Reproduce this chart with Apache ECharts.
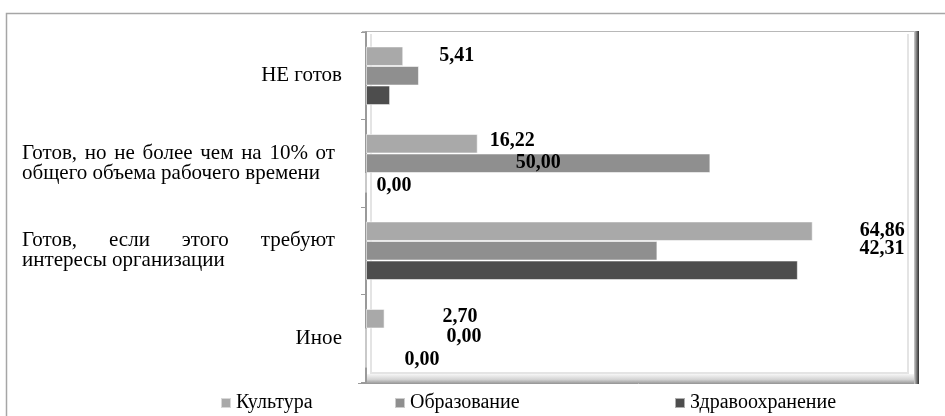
<!DOCTYPE html>
<html>
<head>
<meta charset="utf-8">
<script src="https://cdn.jsdelivr.net/npm/echarts@6/dist/echarts.min.js"></script>
<style>
  html, body { margin: 0; padding: 0; background: #ffffff; }
  #chart { width: 945px; height: 416px; }
</style>
</head>
<body>
<div id="chart"></div>
<script>
// Categories, top to bottom
const categories = [
  'НЕ готов',
  'Готов, но не более чем на 10% от общего объема рабочего времени',
  'Готов, если этого требуют интересы организации',
  'Иное'
];
// Display lines of each category label (first lines of wrapped labels are justified)
const categoryLines = [
  ['НЕ готов'],
  ['Готов, но не более чем на 10% от', 'общего объема рабочего времени'],
  ['Готов, если этого требуют', 'интересы организации'],
  ['Иное']
];

const seriesNames = ['Культура', 'Образование', 'Здравоохранение'];
const kultura          = [5.41, 16.22, 64.86, 2.70];
const obrazovanie      = [7.69, 50.00, 42.31, 0.00];
const zdravookhranenie = [3.50, 0.00, 62.70, 0.00];
const seriesValues = [kultura, obrazovanie, zdravookhranenie];
const seriesColors = ['#a9a9a9', '#8f8f8f', '#4d4d4d'];

// Where each value label sits relative to the end of its bar; null = no label
const labelPlacement = [
  [{ dx: 36, dy: 0 }, { dx: 12, dy: -3 }, { dx: 47, dy: 0 }, { dx: 58, dy: -2 }],
  [null, 'inside', { dx: 202, dy: -2 }, { dx: 80, dy: -1 }],
  [null, { dx: 10, dy: 3 }, null, { dx: 38, dy: 2 }]
];

const FONT = '"Liberation Serif", "Times New Roman", serif';
const LABEL_FONT_SIZE = 21;
const LABEL_BOX = 320;
const JUSTIFY_WIDTH = 313;

const baseText = { fontFamily: FONT, fontSize: LABEL_FONT_SIZE, lineHeight: 20, color: '#000' };
const rich = {
  r: Object.assign({ width: LABEL_BOX, align: 'right' }, baseText),
  l: Object.assign({ width: LABEL_BOX, align: 'left' }, baseText),
  w: Object.assign({ align: 'left' }, baseText)
};

// Justified first lines: words as separate tokens, separated by equal-width gap tokens
const measureCtx = document.createElement('canvas').getContext('2d');
measureCtx.font = LABEL_FONT_SIZE + 'px ' + FONT;
const labelText = categoryLines.map((lines, idx) => {
  if (lines.length === 1) return '{r|' + lines[0] + '}';
  const words = lines[0].split(' ');
  const wordsW = words.reduce((s, w) => s + measureCtx.measureText(w).width, 0);
  const gap = Math.max(4, (JUSTIFY_WIDTH - wordsW) / (words.length - 1));
  const gapStyle = 'g' + idx;
  rich[gapStyle] = Object.assign({ width: gap, align: 'left' }, baseText);
  const first = words.map(w => '{w|' + w + '}').join('{' + gapStyle + '| }');
  const rest = lines.slice(1).map(l => '{l|' + l + '}');
  return [first].concat(rest).join('\n');
});

function fmt(v) { return v.toFixed(2).replace('.', ','); }

function buildData(si) {
  return seriesValues[si].map((v, ci) => {
    const p = labelPlacement[si][ci];
    let label;
    if (p === null) {
      label = { show: false };
    } else if (p === 'inside') {
      label = { show: true, position: 'inside' };
    } else {
      label = { show: true, position: 'right', distance: 0, offset: [p.dx, p.dy] };
    }
    return { value: v, label };
  });
}

const series = seriesNames.map((name, si) => ({
  name,
  type: 'bar',
  barGap: '0%',
  barCategoryGap: '33%',
  itemStyle: { color: seriesColors[si], borderColor: 'rgba(255,255,255,0.55)', borderWidth: 1 },
  label: {
    fontFamily: FONT,
    fontSize: 20,
    fontWeight: 'bold',
    color: '#000',
    formatter: (p) => fmt(p.value)
  },
  data: buildData(si)
}));

const legendLefts = [220, 394, 674];
const legends = seriesNames.map((name, i) => ({
  data: [name],
  left: legendLefts[i],
  top: 393,
  padding: 0,
  icon: 'rect',
  itemWidth: 10,
  itemHeight: 10,
  textStyle: { fontFamily: FONT, fontSize: 20, color: '#000' }
}));

const chart = echarts.init(document.getElementById('chart'), null, { renderer: 'canvas' });
chart.setOption({
  animation: false,
  backgroundColor: '#ffffff',
  grid: { left: 366, top: 32, width: 551, height: 350, containLabel: false },
  xAxis: {
    type: 'value',
    min: 0,
    max: 80,
    show: false,
    splitLine: { show: false }
  },
  yAxis: {
    type: 'category',
    inverse: true,
    data: categories,
    axisLine: { show: true, lineStyle: { color: '#9a9a9a', width: 2 } },
    axisTick: { show: true, length: 5, lineStyle: { color: '#9a9a9a' } },
    axisLabel: {
      margin: 24,
      interval: 0,
      fontFamily: FONT,
      fontSize: LABEL_FONT_SIZE,
      color: '#000',
      formatter: (value, idx) => labelText[idx],
      rich
    }
  },
  legend: legends,
  graphic: [
    // outer chart frame
    { type: 'rect', z: -10, shape: { x: 6.5, y: 13.5, width: 1000, height: 1000 },
      style: { fill: 'none', stroke: '#a6a6a6', lineWidth: 1.5 } },
    // back wall of the plot
    { type: 'polyline', z: -5, shape: { points: [[371, 34], [371, 373], [908, 373], [908, 34]] },
      style: { fill: 'none', stroke: '#e4e4e4', lineWidth: 2 } },
    // top edge of the plot
    { type: 'line', z: -4, shape: { x1: 362, y1: 31.5, x2: 918, y2: 31.5 },
      style: { stroke: '#b8b8b8', lineWidth: 1 } },
    // floor
    { type: 'rect', z: -4, shape: { x: 366, y: 374, width: 548, height: 9 },
      style: { fill: new echarts.graphic.LinearGradient(0, 0, 0, 1, [
        { offset: 0, color: '#f6f6f6' }, { offset: 0.6, color: '#d4d4d4' }, { offset: 1, color: '#a0a0a0' }]) } },
    { type: 'line', z: -4, shape: { x1: 358, y1: 383.5, x2: 919, y2: 383.5 },
      style: { stroke: '#9a9a9a', lineWidth: 1 } },
    // right side wall
    { type: 'rect', z: -4, shape: { x: 914, y: 31, width: 5, height: 353 },
      style: { fill: new echarts.graphic.LinearGradient(0, 0, 1, 0, [
        { offset: 0, color: '#cfcfcf' }, { offset: 1, color: '#2e2e2e' }]) } }
  ],
  series
});
</script>
</body>
</html>
